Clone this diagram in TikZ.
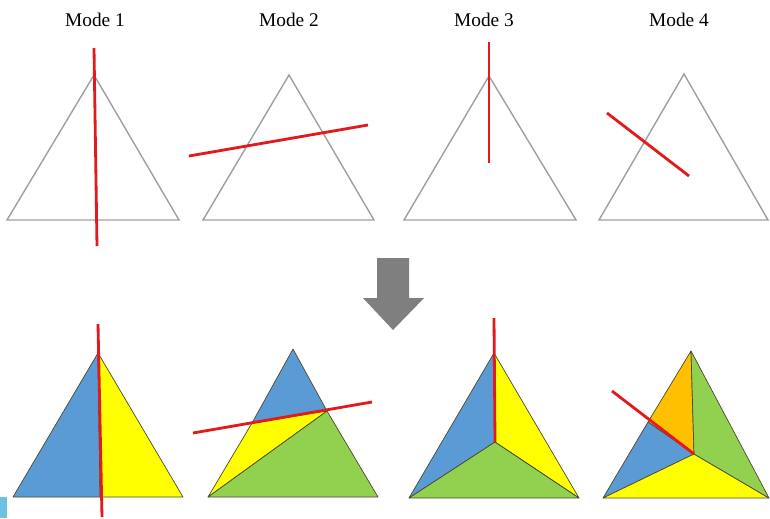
\documentclass[tikz,border=0pt]{standalone}
\usepackage{fontspec}
\setmainfont{Liberation Serif}
\usepackage{xcolor}
\usetikzlibrary{calc}

\definecolor{cutred}{HTML}{E31A1C}
\definecolor{partblue}{HTML}{5B9BD5}
\definecolor{partyellow}{HTML}{FFFF00}
\definecolor{partgreen}{HTML}{92D050}
\definecolor{partorange}{HTML}{FFC000}
\definecolor{arrowgray}{HTML}{7F7F7F}
\definecolor{cornerblue}{HTML}{6CC0E0}

\tikzset{
  plain/.style={draw=gray!75, line width=0.8pt, line join=miter},
  part/.style={draw=black!60!olive, line width=0.4pt, line join=round},
  cut/.style={draw=cutred, line width=1.6pt},
  title/.style={font=\fontsize{11}{13}\selectfont, inner sep=0pt}
}

\begin{document}
\begin{tikzpicture}[x=0.02cm, y=-0.02cm]
  \useasboundingbox (0,0) rectangle (770,518);

  % titles
  \foreach \m/\x in {1/95, 2/289, 3/484, 4/679} {
    \node[title] (mode\m) at (\x,20) {Mode \m};
  }

  % empty triangles with the crack
  \draw[plain] (7,220) -- (94,75) -- (179,220) -- cycle;
  \draw[plain] (203,220) -- (289,75) -- (374,220) -- cycle;
  \draw[plain] (404,220) -- (489,76) -- (576,220) -- cycle;
  \draw[plain] (599,220) -- (684,74) -- (768,220) -- cycle;

  \draw[cut] (94,48) -- (97,246);
  \draw[cut] (189,156) -- (368,125);
  \draw[cut] (489,42) -- (489,163);
  \draw[cut] (607,113) -- (689,176);

  % arrow
  \fill[arrowgray] (377,258) -- (409,258) -- (409,298) -- (424,298)
    -- (393,330) -- (363,298) -- (377,298) -- cycle;

  % mode 1 split
  \coordinate (a1) at (98,353);
  \coordinate (l1) at (13,497);
  \coordinate (r1) at (183,497);
  \coordinate (m1) at (100,497);
  \filldraw[part, fill=partblue] (a1) -- (l1) -- (m1) -- cycle;
  \filldraw[part, fill=partyellow] (a1) -- (m1) -- (r1) -- cycle;
  \draw[cut] (98,324) -- (102,517);

  % mode 2 split
  \coordinate (a2) at (293,349);
  \coordinate (l2) at (208,497);
  \coordinate (r2) at (378,497);
  \coordinate (p2) at (252,423);
  \coordinate (q2) at (327,411);
  \filldraw[part, fill=partblue] (a2) -- (p2) -- (q2) -- cycle;
  \filldraw[part, fill=partyellow] (p2) -- (l2) -- (q2) -- cycle;
  \filldraw[part, fill=partgreen] (q2) -- (l2) -- (r2) -- cycle;
  \draw[cut] (193,433) -- (372,402);

  % mode 3 split
  \coordinate (a3) at (494,353);
  \coordinate (l3) at (409,498);
  \coordinate (r3) at (579,498);
  \coordinate (c3) at (495,442);
  \filldraw[part, fill=partblue] (a3) -- (l3) -- (c3) -- cycle;
  \filldraw[part, fill=partyellow] (a3) -- (c3) -- (r3) -- cycle;
  \filldraw[part, fill=partgreen] (l3) -- (r3) -- (c3) -- cycle;
  \draw[cut] (494,318) -- (c3);

  % mode 4 split
  \coordinate (a4) at (691,351);
  \coordinate (l4) at (603,498);
  \coordinate (r4) at (769,498);
  \coordinate (c4) at (694,454);
  \coordinate (p4) at (648,422);
  \filldraw[part, fill=partorange] (a4) -- (p4) -- (c4) -- cycle;
  \filldraw[part, fill=partblue] (p4) -- (l4) -- (c4) -- cycle;
  \filldraw[part, fill=partyellow] (l4) -- (r4) -- (c4) -- cycle;
  \filldraw[part, fill=partgreen] (a4) -- (c4) -- (r4) -- cycle;
  \draw[cut] (612,391) -- (c4);

  % corner mark
  \fill[cornerblue] (0,497) rectangle (7,518);
\end{tikzpicture}
\end{document}
